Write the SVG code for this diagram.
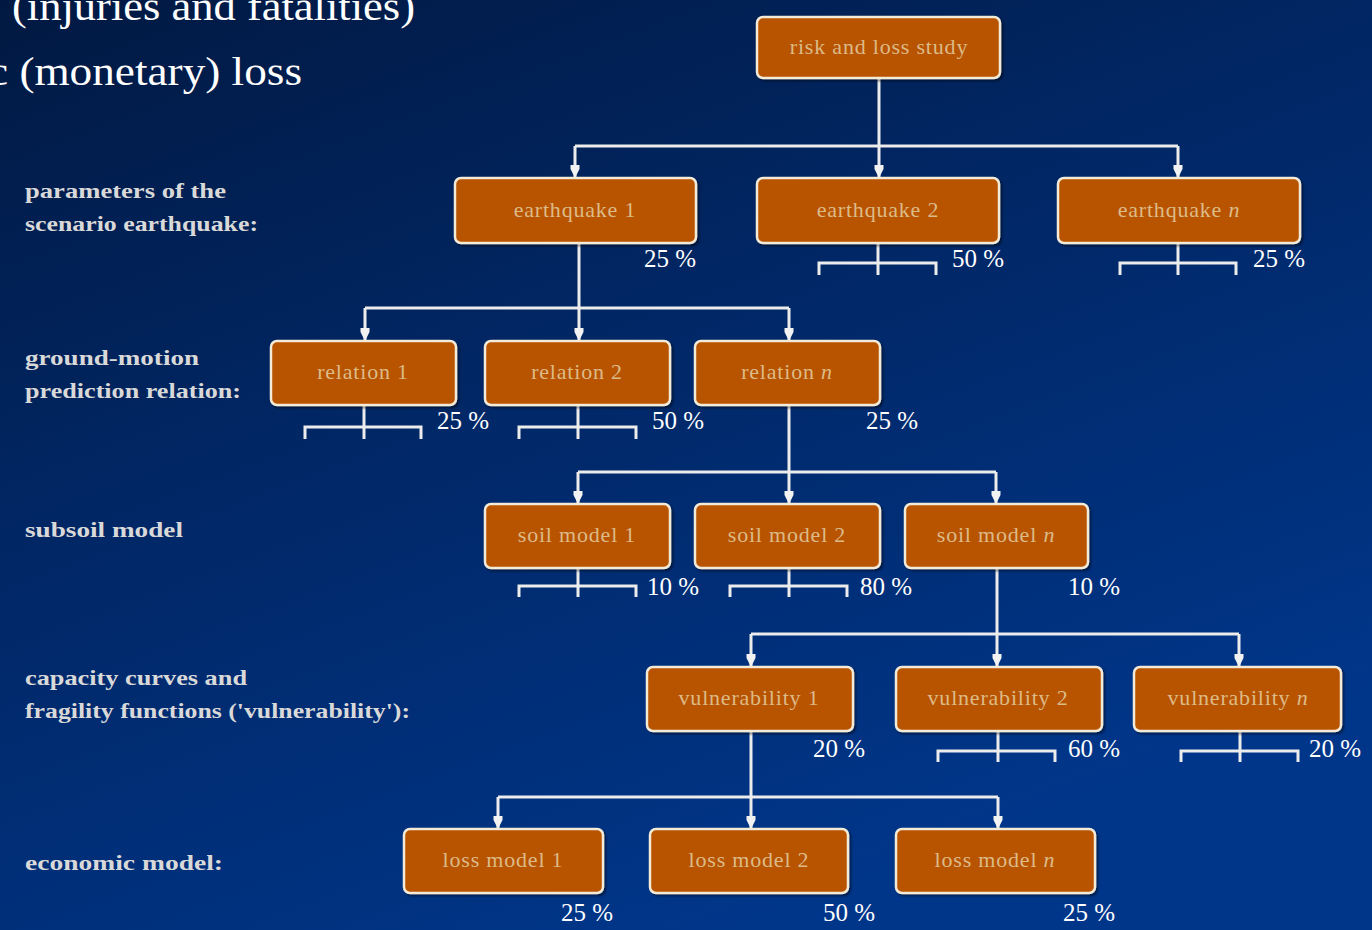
<svg xmlns="http://www.w3.org/2000/svg" width="1372" height="930" viewBox="0 0 1372 930">
<defs>
<linearGradient id="bg" x1="0" y1="0" x2="0.55" y2="1">
<stop offset="0" stop-color="#011942"/>
<stop offset="0.5" stop-color="#012868"/>
<stop offset="1" stop-color="#00368a"/>
</linearGradient>
<marker id="arr" viewBox="0 0 13 12" refX="12" refY="6" markerWidth="13" markerHeight="12" markerUnits="userSpaceOnUse" orient="auto">
<path d="M0,1.5 L4,1.5 L13,6 L4,10.5 L0,10.5 Z" fill="#f2f2f2"/>
</marker>
<filter id="sh" x="-5%" y="-10%" width="110%" height="130%">
<feDropShadow dx="2" dy="2" stdDeviation="1" flood-color="#000" flood-opacity="0.45"/>
</filter>
</defs>
<style>
.box rect{fill:#b85200;stroke:#f3ead8;stroke-width:2.5;filter:url(#sh)}
.box text{font-family:"Liberation Serif",serif;font-size:22px;letter-spacing:0.8px;fill:#dcbb88;text-anchor:middle}
.pct{font-family:"Liberation Serif",serif;font-size:25px;fill:#ffffff}
.lbl{font-family:"Liberation Serif",serif;font-size:22px;font-weight:bold;fill:#d9d9d9}
.top{font-family:"Liberation Serif",serif;font-size:41px;fill:#ffffff}
.ln{stroke:#ececec;stroke-width:3;fill:none}
.ar{stroke:#ececec;stroke-width:3;fill:none;marker-end:url(#arr)}
</style>
<rect width="1372" height="930" fill="url(#bg)"/>

<g id="header">
<text class="top" x="12" y="20" textLength="403" lengthAdjust="spacingAndGlyphs">(injuries and fatalities)</text>
<text class="top" x="-12" y="85" textLength="314" lengthAdjust="spacingAndGlyphs">c (monetary) loss</text>
</g>

<g id="labels">
<text class="lbl" x="25" y="198" textLength="201" lengthAdjust="spacingAndGlyphs">parameters of the</text>
<text class="lbl" x="25" y="231" textLength="233" lengthAdjust="spacingAndGlyphs">scenario earthquake:</text>
<text class="lbl" x="25" y="365" textLength="174" lengthAdjust="spacingAndGlyphs">ground-motion</text>
<text class="lbl" x="25" y="398" textLength="216" lengthAdjust="spacingAndGlyphs">prediction relation:</text>
<text class="lbl" x="25" y="537" textLength="158" lengthAdjust="spacingAndGlyphs">subsoil model</text>
<text class="lbl" x="25" y="685" textLength="222" lengthAdjust="spacingAndGlyphs">capacity curves and</text>
<text class="lbl" x="25" y="718" textLength="385" lengthAdjust="spacingAndGlyphs">fragility functions ('vulnerability'):</text>
<text class="lbl" x="25" y="870" textLength="198" lengthAdjust="spacingAndGlyphs">economic model:</text>
</g>

<g id="connectors">
<path class="ln" d="M879,78 V146 M575,146 H1178"/>
<path class="ar" d="M575,146 V177"/>
<path class="ar" d="M879,146 V177"/>
<path class="ar" d="M1178,146 V177"/>
<path class="ln" d="M579,243 V308 M365,308 H789"/>
<path class="ar" d="M365,308 V340"/>
<path class="ar" d="M579,308 V340"/>
<path class="ar" d="M789,308 V340"/>
<path class="ln" d="M789,405 V472 M578,472 H996"/>
<path class="ar" d="M578,472 V503"/>
<path class="ar" d="M789,472 V503"/>
<path class="ar" d="M996,472 V503"/>
<path class="ln" d="M997,568 V634 M751,634 H1239"/>
<path class="ar" d="M751,634 V666"/>
<path class="ar" d="M997,634 V666"/>
<path class="ar" d="M1239,634 V666"/>
<path class="ln" d="M751,731 V797 M498,797 H998"/>
<path class="ar" d="M498,797 V828"/>
<path class="ar" d="M751,797 V828"/>
<path class="ar" d="M998,797 V828"/>
<path class="ln" d="M878,243 V275 M819,275 V263 H936 V275"/>
<path class="ln" d="M1178,243 V275 M1120,275 V263 H1236 V275"/>
<path class="ln" d="M364,405 V439 M305,439 V427 H421 V439"/>
<path class="ln" d="M578,405 V439 M519,439 V427 H636 V439"/>
<path class="ln" d="M578,568 V597 M519,597 V586 H636 V597"/>
<path class="ln" d="M789,568 V597 M730,597 V586 H847 V597"/>
<path class="ln" d="M998,731 V762 M938,762 V751 H1055 V762"/>
<path class="ln" d="M1240,731 V762 M1181,762 V751 H1298 V762"/>
</g>

<g id="n-root" class="box"><rect x="757" y="17" width="243" height="61" rx="6"/><text x="879" y="54">risk and loss study</text></g>

<g id="n-eq1" class="box"><rect x="455" y="178" width="241" height="65" rx="6"/><text x="575" y="217">earthquake 1</text></g>
<g id="n-eq2" class="box"><rect x="757" y="178" width="242" height="65" rx="6"/><text x="878" y="217">earthquake 2</text></g>
<g id="n-eqn" class="box"><rect x="1058" y="178" width="242" height="65" rx="6"/><text x="1179" y="217">earthquake <tspan font-style="italic">n</tspan></text></g>

<g id="n-rel1" class="box"><rect x="271" y="341" width="185" height="64" rx="6"/><text x="363" y="379">relation 1</text></g>
<g id="n-rel2" class="box"><rect x="485" y="341" width="185" height="64" rx="6"/><text x="577" y="379">relation 2</text></g>
<g id="n-reln" class="box"><rect x="695" y="341" width="185" height="64" rx="6"/><text x="787" y="379">relation <tspan font-style="italic">n</tspan></text></g>

<g id="n-soil1" class="box"><rect x="485" y="504" width="185" height="64" rx="6"/><text x="577" y="542">soil model 1</text></g>
<g id="n-soil2" class="box"><rect x="695" y="504" width="185" height="64" rx="6"/><text x="787" y="542">soil model 2</text></g>
<g id="n-soiln" class="box"><rect x="905" y="504" width="183" height="64" rx="6"/><text x="996" y="542">soil model <tspan font-style="italic">n</tspan></text></g>

<g id="n-vul1" class="box"><rect x="647" y="667" width="206" height="64" rx="6"/><text x="749" y="705">vulnerability 1</text></g>
<g id="n-vul2" class="box"><rect x="896" y="667" width="206" height="64" rx="6"/><text x="998" y="705">vulnerability 2</text></g>
<g id="n-vuln" class="box"><rect x="1134" y="667" width="207" height="64" rx="6"/><text x="1238" y="705">vulnerability <tspan font-style="italic">n</tspan></text></g>

<g id="n-loss1" class="box"><rect x="404" y="829" width="199" height="64" rx="6"/><text x="503" y="867">loss model 1</text></g>
<g id="n-loss2" class="box"><rect x="650" y="829" width="198" height="64" rx="6"/><text x="749" y="867">loss model 2</text></g>
<g id="n-lossn" class="box"><rect x="896" y="829" width="199" height="64" rx="6"/><text x="995" y="867">loss model <tspan font-style="italic">n</tspan></text></g>

<g id="percentages">
<text class="pct" x="644" y="267">25 %</text>
<text class="pct" x="952" y="267">50 %</text>
<text class="pct" x="1253" y="267">25 %</text>
<text class="pct" x="437" y="429">25 %</text>
<text class="pct" x="652" y="429">50 %</text>
<text class="pct" x="866" y="429">25 %</text>
<text class="pct" x="647" y="595">10 %</text>
<text class="pct" x="860" y="595">80 %</text>
<text class="pct" x="1068" y="595">10 %</text>
<text class="pct" x="813" y="757">20 %</text>
<text class="pct" x="1068" y="757">60 %</text>
<text class="pct" x="1309" y="757">20 %</text>
<text class="pct" x="561" y="921">25 %</text>
<text class="pct" x="823" y="921">50 %</text>
<text class="pct" x="1063" y="921">25 %</text>
</g>
</svg>
